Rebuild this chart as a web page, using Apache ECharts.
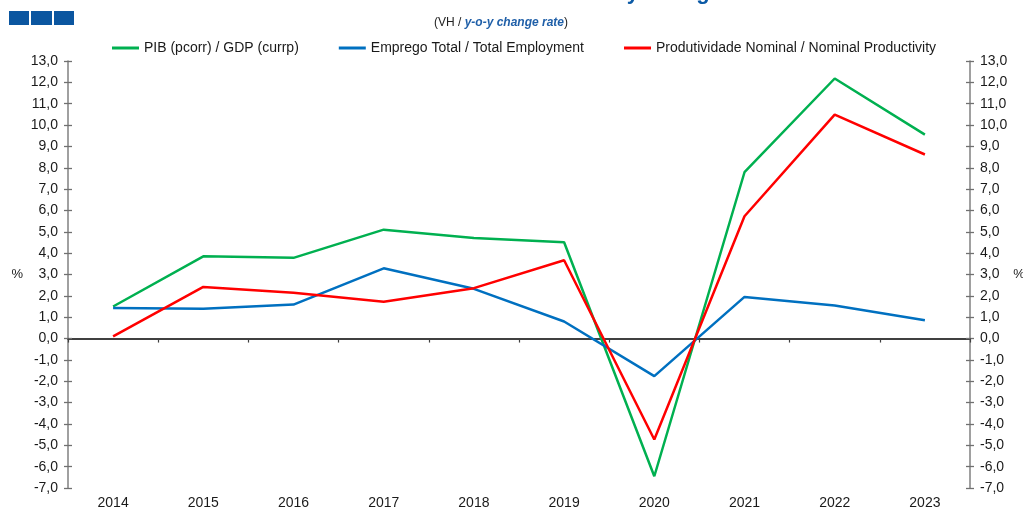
<!DOCTYPE html>
<html>
<head>
<meta charset="utf-8">
<script src="https://cdn.jsdelivr.net/npm/echarts@6/dist/echarts.min.js"></script>
<style>
  html, body { margin: 0; padding: 0; background: #fff; }
  #main { width: 1023px; height: 510px; }
</style>
</head>
<body>
<div id="main"></div>
<script>
// anos / years
var years = ['2014', '2015', '2016', '2017', '2018', '2019', '2020', '2021', '2022', '2023'];

// VH (%)
var gdp = [1.5, 3.85, 3.78, 5.1, 4.71, 4.51, -6.45, 7.79, 12.18, 9.55];
var employment = [1.43, 1.39, 1.59, 3.29, 2.33, 0.8, -1.76, 1.95, 1.55, 0.86];
var productivity = [0.1, 2.42, 2.14, 1.72, 2.36, 3.67, -4.73, 5.73, 10.49, 8.62];

var seriesNames = [
    'PIB (pcorr) / GDP (currp)',
    'Emprego Total / Total Employment',
    'Produtividade Nominal / Nominal Productivity'
];

var font = 'Liberation Sans, Arial, sans-serif';
var labelColor = '#1a1a1a';

function fmt(v) {
    return v.toFixed(1).replace('.', ',');
}

// eixo y (4 eixos para os traços cruzados)
function yAxis(pos, inside, main) {
    return {
        type: 'value',
        position: pos,
        min: -7,
        max: 13,
        interval: 1,
        name: main ? '%' : '',
        nameLocation: 'middle',
        nameGap: pos == 'left' ? 45 : 42,
        nameRotate: 0,
        nameTextStyle: {color: labelColor, fontSize: 13, fontFamily: font},
        axisLine: {show: main, lineStyle: {color: '#808080', width: 1.5}},
        axisTick: {show: true, inside: inside, length: 4, lineStyle: {color: '#707070', width: 1.3}},
        axisLabel: {
            show: main,
            margin: 10,
            color: labelColor,
            fontSize: 14,
            fontFamily: font,
            formatter: fmt
        },
        splitLine: {show: false}
    };
}

var myChart = echarts.init(document.getElementById('main'));

var option = {
    animation: false,
    backgroundColor: '#fff',
    title: {
        text: '{a|(VH / }{b|y-o-y change rate}{a|)}',
        left: 496,
        textAlign: 'center',
        top: 12,
        textStyle: {
            fontWeight: 'normal',
            rich: {
                a: {fontSize: 12, color: '#222', fontWeight: 'normal', fontFamily: font},
                b: {fontSize: 12, color: '#1f5fa8', fontWeight: 'bold', fontStyle: 'italic', fontFamily: font}
            }
        }
    },
    graphic: [
        {type: 'rect', shape: {x: 9, y: 11, width: 20, height: 14}, style: {fill: '#0b56a0'}},
        {type: 'rect', shape: {x: 31, y: 11, width: 21, height: 14}, style: {fill: '#0b56a0'}},
        {type: 'rect', shape: {x: 54, y: 11, width: 20, height: 14}, style: {fill: '#0b56a0'}},
        {
            type: 'text',
            x: 722,
            y: -7,
            style: {
                text: 'Nominal Productivity change',
                fill: '#0b5aa6',
                font: 'bold 22px ' + font,
                textAlign: 'right',
                textVerticalAlign: 'middle'
            }
        }
    ],
    legend: {
        top: 36,
        left: 107,
        icon: 'rect',
        itemWidth: 27,
        itemHeight: 3,
        itemGap: 40,
        textStyle: {fontSize: 14, color: labelColor, fontFamily: font},
        data: seriesNames
    },
    grid: {left: 68, right: 53, top: 61, bottom: 22, containLabel: false, outerBoundsMode: 'none'},
    xAxis: [
        {
            type: 'category',
            data: years,
            position: 'bottom',
            axisLine: {show: false, onZero: false},
            axisTick: {show: false},
            axisLabel: {margin: 8, color: labelColor, fontSize: 14, fontFamily: font}
        },
        {
            type: 'category',
            data: years,
            position: 'bottom',
            axisLine: {show: true, onZero: true, lineStyle: {color: '#404040', width: 2}},
            axisTick: {show: true, length: 4, lineStyle: {color: '#404040', width: 1.2}},
            axisLabel: {show: false}
        }
    ],
    yAxis: [
        yAxis('left', false, true),
        yAxis('left', true, false),
        yAxis('right', false, true),
        yAxis('right', true, false)
    ],
    series: [
        {
            name: seriesNames[0],
            type: 'line',
            data: gdp,
            symbol: 'none',
            itemStyle: {color: '#00b050'},
            lineStyle: {color: '#00b050', width: 2.5}
        },
        {
            name: seriesNames[1],
            type: 'line',
            data: employment,
            symbol: 'none',
            itemStyle: {color: '#0070c0'},
            lineStyle: {color: '#0070c0', width: 2.5}
        },
        {
            name: seriesNames[2],
            type: 'line',
            data: productivity,
            symbol: 'none',
            itemStyle: {color: '#ff0000'},
            lineStyle: {color: '#ff0000', width: 2.5}
        }
    ]
};

myChart.setOption(option);
</script>
</body>
</html>
